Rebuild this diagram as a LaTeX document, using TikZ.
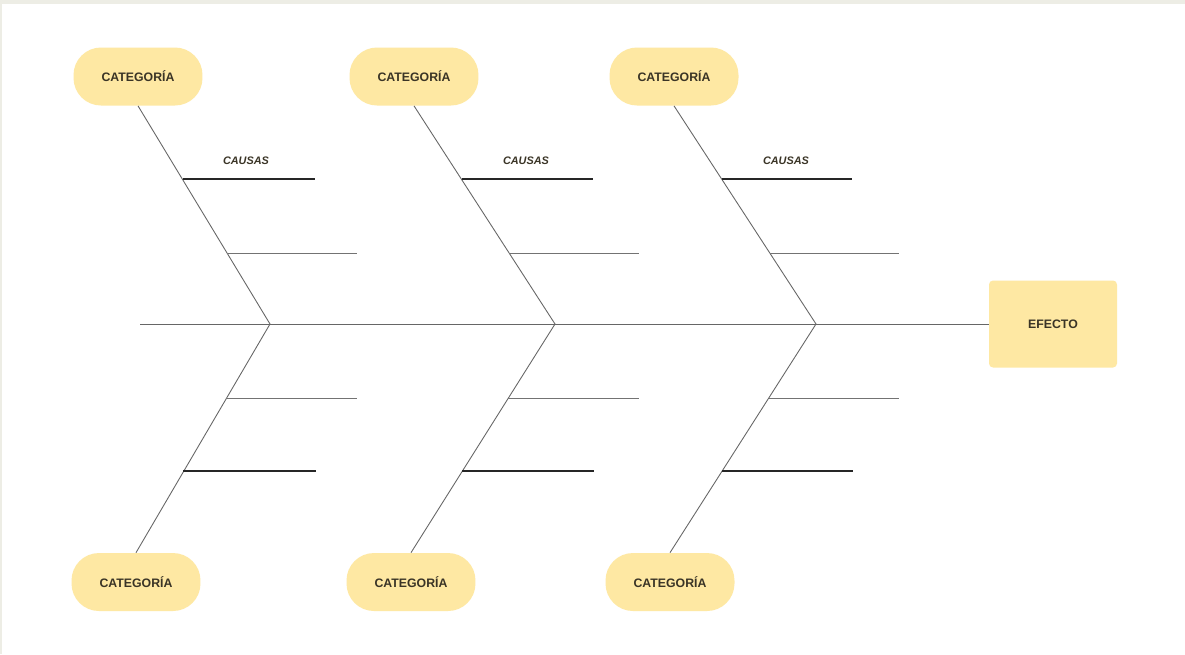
\documentclass[tikz,border=0pt]{standalone}
\usepackage{fontspec}
\setmainfont{Liberation Sans}
\usetikzlibrary{calc}

\definecolor{pillfill}{RGB}{254,232,163}
\definecolor{inkbrown}{RGB}{58,52,38}
\definecolor{framegray}{RGB}{237,237,229}

\begin{document}
\begin{tikzpicture}[x=0.02cm, y=-0.02cm,
    cat/.style={rectangle, rounded corners=0.55cm, fill=pillfill, minimum width=2.58cm, minimum height=1.16cm,
      text=inkbrown, font=\fontsize{7}{8}\selectfont\bfseries},
    effect/.style={rectangle, rounded corners=0.08cm, fill=pillfill, minimum width=2.56cm, minimum height=1.74cm,
      text=inkbrown, font=\fontsize{7}{8}\selectfont\bfseries},
    bone/.style={draw=black!60, line width=0.5pt},
    cause/.style={draw=black!85, line width=0.7pt},
    minor/.style={draw=black!55, line width=0.5pt},
    tag/.style={text=inkbrown, font=\fontsize{6.2}{7}\selectfont\bfseries\itshape}]
  % page and frame
  \fill[framegray] (0,0) rectangle (1185,654);
  \fill[white] (2,4) rectangle (1185,654);
  \useasboundingbox (0,0) rectangle (1185,654);

  % categories
  \node[cat] (top1) at (138,76.5) {CATEGORÍA};
  \node[cat] (top2) at (414,76.5) {CATEGORÍA};
  \node[cat] (top3) at (674,76.5) {CATEGORÍA};
  \node[cat] (bot1) at (136,582) {CATEGORÍA};
  \node[cat] (bot2) at (411,582) {CATEGORÍA};
  \node[cat] (bot3) at (670,582) {CATEGORÍA};
  \node[effect] (efecto) at (1053,324) {EFECTO};

  % spine
  \coordinate (tail) at (140,324);
  \coordinate (j1) at (270,324);
  \coordinate (j2) at (555,324);
  \coordinate (j3) at (816,324);
  \draw[bone] (tail) -- (j1) -- (j2) -- (j3) -- (efecto);

  % bones
  \draw[bone] (top1.south) -- (j1) -- (bot1.north);
  \draw[bone] (top2.south) -- (j2) -- (bot2.north);
  \draw[bone] (top3.south) -- (j3) -- (bot3.north);

  % causes, first bone
  \coordinate (a1) at (183.3,179);  \coordinate (a1e) at (315,179);
  \coordinate (b1) at (227.5,253);  \coordinate (b1e) at (357,253);
  \coordinate (c1) at (226.2,398);  \coordinate (c1e) at (357,398);
  \coordinate (d1) at (183,471);    \coordinate (d1e) at (316,471);
  \draw[cause] (a1) -- (a1e);
  \draw[minor] (b1) -- (b1e);
  \draw[minor] (c1) -- (c1e);
  \draw[cause] (d1) -- (d1e);
  \node[tag] (causas1) at (246,161) {CAUSAS};

  % causes, second bone
  \coordinate (a2) at (461.6,179);  \coordinate (a2e) at (593,179);
  \coordinate (b2) at (509.3,253);  \coordinate (b2e) at (639,253);
  \coordinate (c2) at (508.3,398);  \coordinate (c2e) at (639,398);
  \coordinate (d2) at (462.2,471);  \coordinate (d2e) at (594,471);
  \draw[cause] (a2) -- (a2e);
  \draw[minor] (b2) -- (b2e);
  \draw[minor] (c2) -- (c2e);
  \draw[cause] (d2) -- (d2e);
  \node[tag] (causas2) at (526,161) {CAUSAS};

  % causes, third bone
  \coordinate (a3) at (722,179);    \coordinate (a3e) at (852,179);
  \coordinate (b3) at (770,253);    \coordinate (b3e) at (899,253);
  \coordinate (c3) at (768.6,398);  \coordinate (c3e) at (899,398);
  \coordinate (d3) at (721.9,471);  \coordinate (d3e) at (853,471);
  \draw[cause] (a3) -- (a3e);
  \draw[minor] (b3) -- (b3e);
  \draw[minor] (c3) -- (c3e);
  \draw[cause] (d3) -- (d3e);
  \node[tag] (causas3) at (786,161) {CAUSAS};
\end{tikzpicture}
\end{document}
